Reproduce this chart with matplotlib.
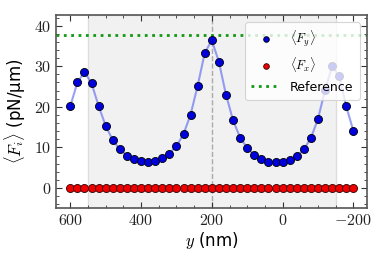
import numpy as np
import matplotlib
matplotlib.use("Agg")
import matplotlib.pyplot as plt
from matplotlib.ticker import MultipleLocator, FuncFormatter

plt.rcParams['mathtext.fontset'] = 'cm'
plt.rcParams['font.family'] = ['DejaVu Sans']

# positions along y (nm)
y_pos = np.arange(600, -201, -20)

# mean force components (pN/um)
fy_mean = [20.2, 26.0, 28.6, 25.8, 20.2, 15.3, 11.8, 9.5, 8.0, 7.2,
           6.6, 6.5, 6.7, 7.4, 8.5, 10.3, 13.3, 18.1, 25.2, 33.3,
           36.4, 31.1, 23.0, 16.7, 12.4, 9.9, 8.1, 7.2, 6.5, 6.3,
           6.4, 6.9, 7.8, 9.5, 12.3, 17.0, 24.1, 30.0, 27.5, 20.1, 14.1]
fx_mean = [0.0] * len(fy_mean)

ref_value = 37.6
region = (-150, 550)
center = 200

fig = plt.figure(figsize=(3.82, 2.63), dpi=100)
ax = fig.add_axes([0.147, 0.208, 0.815, 0.736])

ax.axvspan(region[0], region[1], facecolor='#f1f1f1', edgecolor='#dddddd', lw=1, zorder=0)
ax.axvline(center, color='#aaaaaa', ls='--', lw=1, zorder=1)

ax.plot(y_pos, fy_mean, '-', color='#4455ee', alpha=0.55, lw=1.5, zorder=2)
ax.plot(y_pos, fy_mean, 'o', color='#0000dd', mec='black', mew=0.6, ms=5.8,
        zorder=3, label=r'$\langle F_y\rangle$')
ax.plot(y_pos, fx_mean, 'o', color='#ee0000', mec='#330000', mew=0.6, ms=5.8,
        zorder=3, label=r'$\langle F_x\rangle$')
ax.axhline(ref_value, color='#119911', ls=':', lw=2, zorder=2, label='Reference')

ax.set_xlim(640, -240)
ax.set_ylim(-5, 42.7)

ax.xaxis.set_major_locator(MultipleLocator(200))
ax.xaxis.set_minor_locator(MultipleLocator(50))
ax.yaxis.set_major_locator(MultipleLocator(10))
ax.yaxis.set_minor_locator(MultipleLocator(2))
fmt = FuncFormatter(lambda v, p: r'$%g$' % v)
ax.xaxis.set_major_formatter(fmt)
ax.yaxis.set_major_formatter(fmt)

ax.tick_params(which='both', direction='in', top=True, right=True, colors='#333333',
               labelcolor='#222222')
ax.tick_params(which='major', length=4, width=0.8, labelsize=11.5)
ax.tick_params(which='minor', length=2, width=0.6)
for s in ax.spines.values():
    s.set_color('#555555')
    s.set_linewidth(1.2)

ax.set_xlabel(r'$y$ (nm)', fontsize=12, labelpad=1)
ax.set_ylabel(r'$\langle F_i\rangle$ (pN/μm)', fontsize=12, labelpad=4)

leg = ax.legend(loc='upper right', fontsize=9, framealpha=0.8, borderpad=0.5,
                handlelength=2.3, labelspacing=0.5, markerscale=0.7,
                edgecolor='#cccccc', borderaxespad=0.6)
leg.get_frame().set_linewidth(0.8)

fig.savefig('out.png', dpi=100)
